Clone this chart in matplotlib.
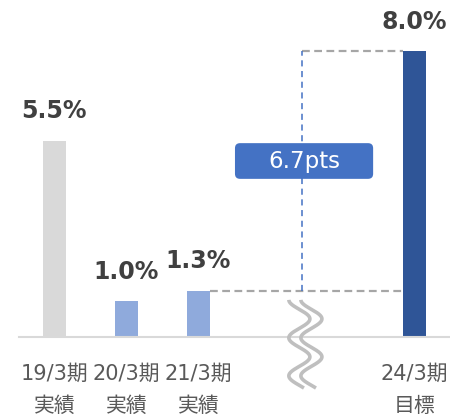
import numpy as np
import matplotlib
matplotlib.use("Agg")
import matplotlib.pyplot as plt
from matplotlib.patches import FancyBboxPatch

# DejaVu for latin (Verdana-like, as in Meiryo), CJK fallback for kanji
plt.rcParams['font.family'] = ['DejaVu Sans', 'Noto Sans CJK JP']

# data
periods = ["19/3期", "20/3期", "21/3期", "24/3期"]
kinds = ["実績", "実績", "実績", "目標"]
values = [5.5, 1.0, 1.3, 8.0]
positions = [0, 1, 2, 5]
colors = ["#D9D9D9", "#8FAADC", "#8FAADC", "#2F5597"]
gap_label = "6.7pts"

fig = plt.figure(figsize=(4.5, 4.16), dpi=100)
ax = fig.add_axes([19 / 450, 1 - 337 / 416, 431 / 450, 337 / 416])

bar_w = 0.32
ax.bar(positions, values, width=bar_w, color=colors, zorder=2)

for x, v in zip(positions, values):
    ax.annotate(f"{v:.1f}%", (x, v), xytext=(0, 16), textcoords="offset points",
                ha="center", va="baseline", fontsize=17, fontweight="bold",
                color="#404040")

ax.set_xlim(-0.49, 5.49)
ax.set_ylim(0, 9.44)

# connector lines between the last actual and the target
x_break = 3.44
ax.plot([positions[2] + bar_w / 2, positions[3] - bar_w / 2], [values[2], values[2]],
        color="#A6A6A6", lw=1.6, ls=(0, (3.5, 2)), zorder=1)
ax.plot([x_break, positions[3] - bar_w / 2], [values[3], values[3]],
        color="#A6A6A6", lw=1.6, ls=(0, (3.5, 2)), zorder=1)
ax.plot([x_break, x_break], [values[2], values[3]],
        color="#4472C4", lw=1.1, ls=(0, (4, 3)), zorder=1)

# difference box
mid_y = 4.93
box_w, box_h = 1.917, 1.0
aspect = 72 / 35.7
box = FancyBboxPatch((x_break + 0.025 - box_w / 2, mid_y - box_h / 2), box_w, box_h,
                     boxstyle="round,pad=0,rounding_size=0.07",
                     mutation_aspect=aspect, fc="#4472C4", ec="none", zorder=3)
ax.add_patch(box)
ax.text(x_break + 0.025, mid_y, gap_label, ha="center", va="center",
        fontsize=16.5, color="white", zorder=4)

# break mark
t = np.linspace(0, 1, 200)
y_top, y_bot = 1.04, -1.43
ys = y_top + (y_bot - y_top) * t
period = 1.064
amp = 0.146
for xc in [3.40, 3.567]:
    xs = xc - amp * np.cos(2 * np.pi * (y_top - ys) / period)
    ax.plot(xs, ys, color="#BFBFBF", lw=2.6, solid_capstyle="butt",
            clip_on=False, zorder=5)

for s in ["top", "right", "left"]:
    ax.spines[s].set_visible(False)
ax.spines["bottom"].set_color("#D9D9D9")
ax.spines["bottom"].set_linewidth(1.5)
ax.set_yticks([])
ax.set_xticks(positions)
ax.set_xticklabels([f"{p}\n{k}" for p, k in zip(periods, kinds)],
                   fontsize=15, color="#595959", linespacing=1.8)
ax.tick_params(axis="x", length=0, pad=19)

fig.savefig("out.png", dpi=100)
